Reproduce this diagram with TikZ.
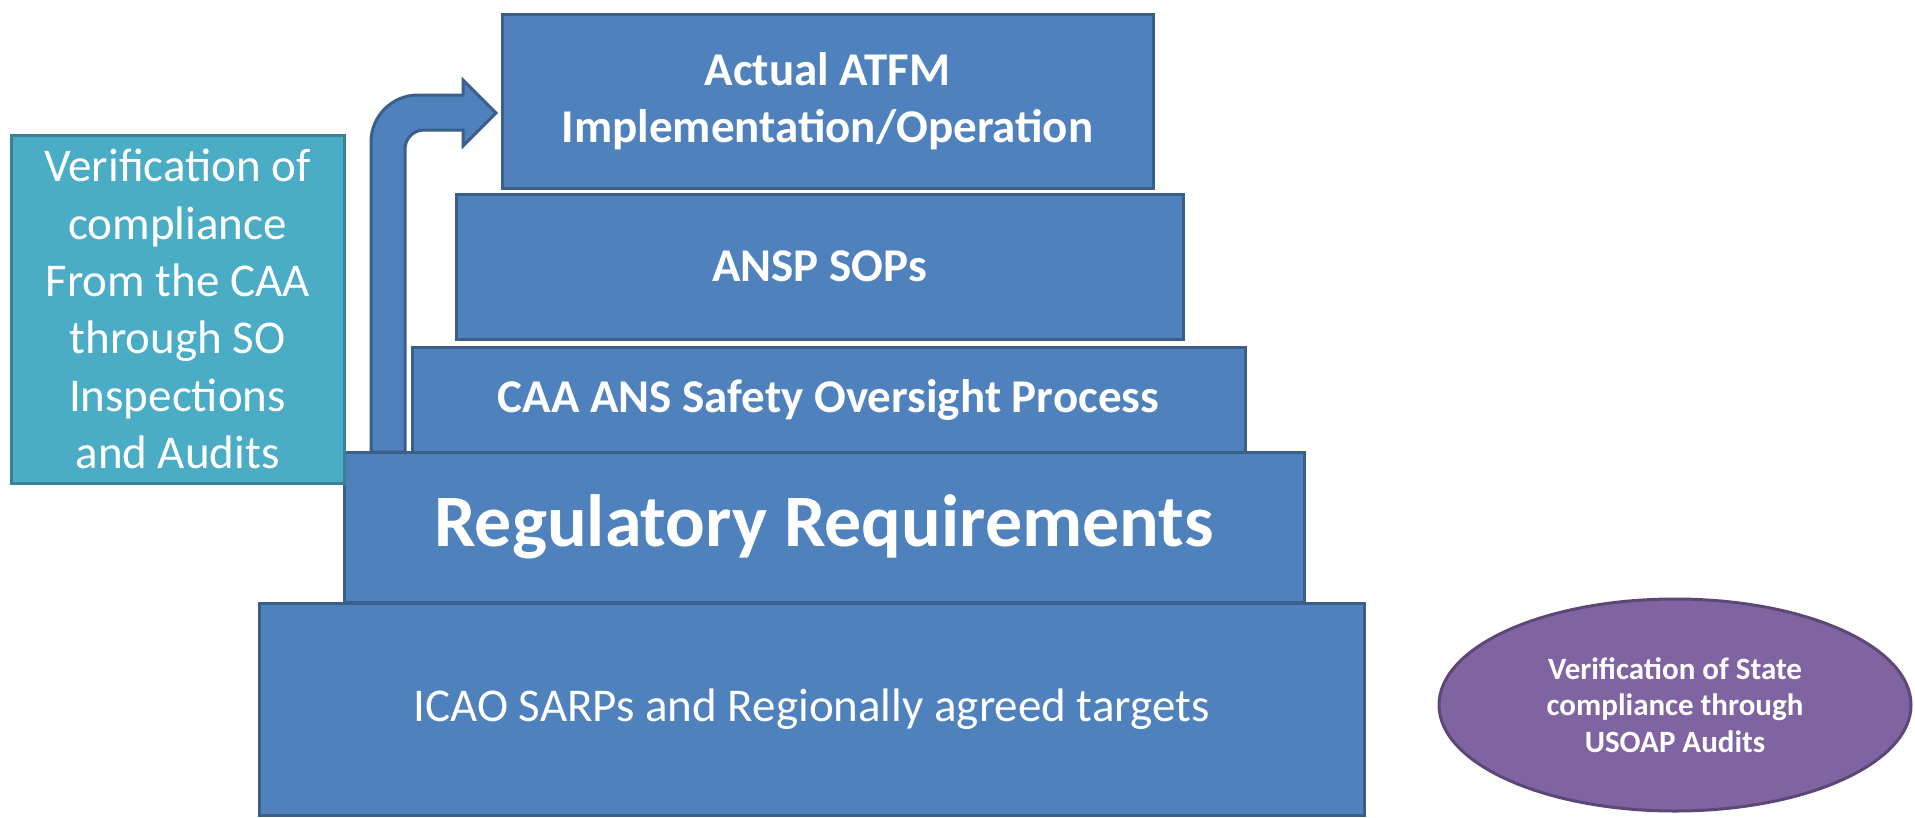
\documentclass[tikz,border=0pt]{standalone}
\usepackage{fontspec}
\setmainfont{Carlito}
\usetikzlibrary{shapes.geometric}
\definecolor{bfill}{HTML}{4F81BD}
\definecolor{bline}{HTML}{3A5F8B}
\definecolor{tfill}{HTML}{4BACC6}
\definecolor{tline}{HTML}{3A8193}
\definecolor{pfill}{HTML}{8064A2}
\definecolor{pline}{HTML}{5C4776}
\begin{document}
\begin{tikzpicture}[x=1pt,y=-1pt,
  blk/.style={rectangle, draw=bline, fill=bfill, line width=3pt, text=white, align=center, inner sep=0pt},
  tealbox/.style={rectangle, draw=tline, fill=tfill, line width=3pt, text=white, align=center, inner sep=0pt,
    font=\fontsize{47}{57.3}\selectfont},
  oval/.style={ellipse, draw=pline, fill=pfill, line width=3pt, text=white, align=center, inner sep=0pt,
    font=\bfseries\fontsize{31}{36.5}\selectfont},
  big/.style={font=\bfseries\fontsize{47}{57.3}\selectfont},
  bigger/.style={font=\bfseries\fontsize{74}{88}\selectfont},
  plain/.style={font=\fontsize{47}{57.3}\selectfont}
]
\useasboundingbox (0,0) rectangle (1915,817);
\fill[white] (0,0) rectangle (1915,817);
% bent arrow
\filldraw[draw=bline, fill=bfill, line width=3pt, line join=miter]
  (371,452) -- (371,142) arc[start angle=180, end angle=270, radius=47] -- (463,95) -- (463,80)
  -- (496,113) -- (463,146) -- (463,130) -- (424,130)
  arc[start angle=270, end angle=180, radius=19] -- (405,452) -- cycle;
\node[blk, big, minimum width=651pt, minimum height=174pt] (atfm) at (827.5,101)
  {Actual ATFM\\Implementation/Operation};
\node[blk, big, minimum width=727pt, minimum height=145pt] (ansp) at (819.5,266.5) {ANSP SOPs};
\node[blk, big, minimum width=833pt, minimum height=105pt] (caa) at (828.5,399.5) {CAA ANS Safety Oversight Process};
\node[blk, bigger, minimum width=960pt, minimum height=150pt] (reg) at (824,527) {Regulatory Requirements};
\node[blk, plain, minimum width=1105pt, minimum height=212pt] (icao) at (811.5,709) {ICAO SARPs and Regionally agreed targets};
\node[tealbox, minimum width=333pt, minimum height=348pt] (teal) at (177.5,309)
  {Verification of\\compliance\\From the CAA\\through SO\\Inspections\\and Audits};
\node[oval, minimum width=472pt, minimum height=212pt] (usoap) at (1675,705)
  {Verification of State\\compliance through\\USOAP Audits};
\end{tikzpicture}
\end{document}
